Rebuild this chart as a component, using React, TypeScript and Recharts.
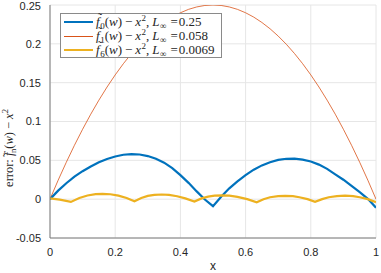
import React from "react";
import { LineChart, Line, XAxis, YAxis, CartesianGrid } from "recharts";

const blueX = [0, 0.025, 0.05, 0.075, 0.1, 0.125, 0.15, 0.175, 0.2, 0.225, 0.25, 0.275, 0.3, 0.325, 0.35, 0.375, 0.4, 0.425, 0.45, 0.475, 0.5, 0.525, 0.55, 0.575, 0.6, 0.625, 0.65, 0.675, 0.7, 0.725, 0.75, 0.775, 0.8, 0.825, 0.85, 0.875, 0.9, 0.925, 0.95, 0.975, 1.0];
const blueY = [0, 0.011, 0.0205, 0.029, 0.036, 0.042, 0.0475, 0.0518, 0.055, 0.0572, 0.058, 0.0575, 0.0555, 0.052, 0.047, 0.04, 0.031, 0.021, 0.01, -0.0005, -0.009, 0.003, 0.014, 0.023, 0.031, 0.038, 0.0435, 0.0475, 0.0505, 0.052, 0.0522, 0.051, 0.0485, 0.0445, 0.039, 0.032, 0.025, 0.017, 0.009, 0.0005, -0.011];

const orangeX = [0, 0.025, 0.05, 0.075, 0.1, 0.125, 0.15, 0.175, 0.2, 0.225, 0.25, 0.275, 0.3, 0.325, 0.35, 0.375, 0.4, 0.425, 0.45, 0.475, 0.5, 0.525, 0.55, 0.575, 0.6, 0.625, 0.65, 0.675, 0.7, 0.725, 0.75, 0.775, 0.8, 0.825, 0.85, 0.875, 0.9, 0.925, 0.95, 0.975, 1.0];
const orangeY = [0, 0.0244, 0.0475, 0.0694, 0.09, 0.1094, 0.1275, 0.1444, 0.16, 0.1744, 0.1875, 0.1994, 0.21, 0.2194, 0.2275, 0.2344, 0.24, 0.2444, 0.2475, 0.2494, 0.25, 0.2494, 0.2475, 0.2444, 0.24, 0.2344, 0.2275, 0.2194, 0.21, 0.1994, 0.1875, 0.1744, 0.16, 0.1444, 0.1275, 0.1094, 0.09, 0.0694, 0.0475, 0.0244, 0];

const yellowX = [0, 0.03, 0.064, 0.09, 0.115, 0.14, 0.161, 0.185, 0.21, 0.235, 0.259, 0.28, 0.3, 0.32, 0.343, 0.365, 0.39, 0.415, 0.443, 0.465, 0.485, 0.505, 0.527, 0.55, 0.575, 0.605, 0.634, 0.655, 0.675, 0.7, 0.721, 0.745, 0.765, 0.79, 0.813, 0.835, 0.855, 0.88, 0.905, 0.93, 0.95, 0.975, 1.0];
const yellowY = [0.001, -0.0005, -0.0035, 0.0015, 0.0047, 0.0064, 0.0068, 0.0063, 0.0045, 0.0015, -0.0026, 0.0015, 0.0042, 0.0055, 0.006, 0.0055, 0.0038, 0.001, -0.003, 0.001, 0.0033, 0.0046, 0.005, 0.0046, 0.003, 0.0, -0.004, 0.0, 0.0025, 0.0038, 0.0042, 0.0038, 0.0025, 0.0, -0.0035, 0.0, 0.0025, 0.004, 0.0045, 0.004, 0.0025, 0.0, -0.004];

const xTicks = [0, 0.2, 0.4, 0.6, 0.8, 1];
const yTicks = [-0.05, 0, 0.05, 0.1, 0.15, 0.2, 0.25];
const legendValues = ["0.25", "0.058", "0.0069"];
const legendIndex = ["0", "1", "6"];

const zip = (xs: number[], ys: number[]) => xs.map((x, i) => ({ x, y: ys[i] }));
const blueData = zip(blueX, blueY);
const orangeData = zip(orangeX, orangeY);
const yellowData = zip(yellowX, yellowY);

const BLUE = "#0072BD";
const ORANGE = "#D95319";
const YELLOW = "#EDB120";
const legendColors = [BLUE, ORANGE, YELLOW];
const legendWidths = [2.5, 1, 2.5];

const serif = "'Liberation Serif', 'DejaVu Serif', serif";
const sans = "'Liberation Sans', Arial, sans-serif";

const YLabel = () => (
  <text
    x={13}
    y={148}
    transform="rotate(-90 13 148)"
    textAnchor="middle"
    fontFamily={serif}
    fontSize={12.5}
    fill="#262626"
  >
    <tspan>error: </tspan>
    <tspan fontStyle="italic">f</tspan>
    <tspan dx={-4.5} dy={-1}>˜</tspan>
    <tspan fontSize={8.5} dy={4}>n</tspan>
    <tspan dy={-3}>(</tspan>
    <tspan fontStyle="italic">w</tspan>
    <tspan>)</tspan>
    <tspan dx={3}>−</tspan>
    <tspan dx={3} fontStyle="italic">x</tspan>
    <tspan fontSize={8.5} dy={-5}>2</tspan>
  </text>
);

const Sub = ({ c }: { c: string }) => (
  <span style={{ fontSize: 9, position: "relative", top: 3, marginLeft: 0.5 }}>{c}</span>
);
const Sup = ({ c }: { c: string }) => (
  <span style={{ fontSize: 9, position: "relative", top: -5, marginLeft: 0.5 }}>{c}</span>
);
const FTilde = () => (
  <span style={{ position: "relative", display: "inline-block" }}>
    <i>f</i>
    <span style={{ position: "absolute", left: 2, top: -4, fontSize: 12 }}>˜</span>
  </span>
);

export default function App() {
  return (
    <div style={{ position: "absolute", left: 0, top: 0, width: 381, height: 273, background: "#fff" }}>
      <LineChart width={381} height={273} margin={{ top: 5, right: 5, left: 0, bottom: 0 }}>
        <CartesianGrid stroke="#e6e6e6" strokeWidth={1} horizontalValues={yTicks} verticalValues={xTicks} />
        <XAxis
          type="number"
          dataKey="x"
          domain={[0, 1]}
          ticks={xTicks}
          height={35}
          tickLine={false}
          axisLine={{ stroke: "#7a7a7a" }}
          tick={{ fontFamily: sans, fontSize: 11, fill: "#262626" }}
          tickMargin={4}
          label={{ value: "x", position: "insideBottom", offset: 3, fontFamily: sans, fontSize: 12, fill: "#262626" }}
          allowDataOverflow
        />
        <YAxis
          type="number"
          domain={[-0.05, 0.25]}
          ticks={yTicks}
          width={50}
          tickLine={false}
          axisLine={{ stroke: "#7a7a7a" }}
          tick={{ fontFamily: sans, fontSize: 11, fill: "#262626" }}
          tickMargin={3}
          label={{ content: () => <YLabel /> }}
          allowDataOverflow
        />
        <Line data={orangeData} dataKey="y" stroke={ORANGE} strokeWidth={0.8} dot={false} isAnimationActive={false} />
        <Line data={blueData} dataKey="y" stroke={BLUE} strokeWidth={2.2} dot={false} isAnimationActive={false} />
        <Line data={yellowData} dataKey="y" stroke={YELLOW} strokeWidth={2.2} dot={false} isAnimationActive={false} />
      </LineChart>
      <div
        style={{
          position: "absolute",
          left: 60,
          top: 13,
          width: 162,
          height: 45,
          border: "1px solid #8a8a8a",
          background: "#fff",
          fontFamily: serif,
          fontSize: 13,
          color: "#262626",
          boxSizing: "border-box",
          paddingTop: 1,
        }}
      >
        {legendValues.map((v, i) => (
          <div key={i} style={{ display: "flex", alignItems: "center", height: 14, whiteSpace: "nowrap" }}>
            <div style={{ marginLeft: 3, width: 29, height: 0, borderTop: `${legendWidths[i]}px solid ${legendColors[i]}` }} />
            <span style={{ marginLeft: 3, lineHeight: "14px" }}>
              <FTilde />
              <Sub c={legendIndex[i]} />
              (<i>w</i>)<span style={{ margin: "0 3px" }}>−</span>
              <i>x</i>
              <Sup c="2" />
              <span style={{ marginRight: 3 }}>,</span>
              <i>L</i>
              <Sub c="∞" />
              <span style={{ margin: "0 1px 0 4px" }}>=</span>
              {v}
            </span>
          </div>
        ))}
      </div>
    </div>
  );
}
